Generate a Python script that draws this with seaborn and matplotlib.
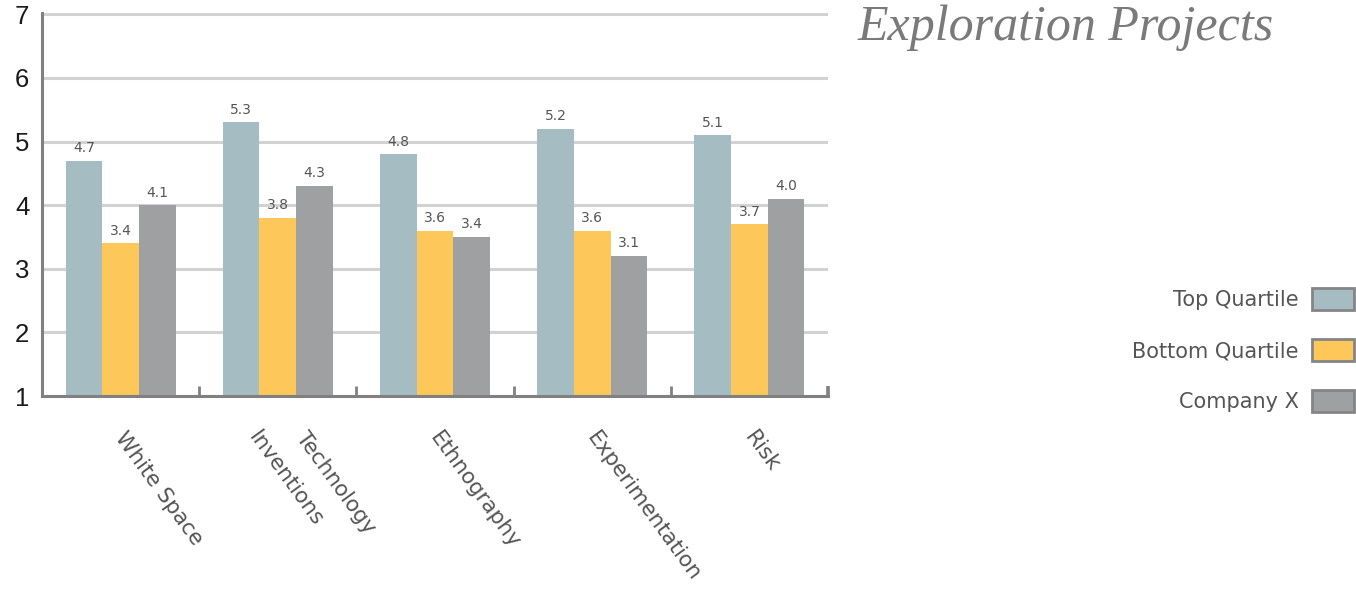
import matplotlib
matplotlib.use("Agg")
import matplotlib.pyplot as plt
from matplotlib.patches import Patch
from matplotlib.ticker import FixedLocator
import seaborn as sns
import pandas as pd

# ---- data ----
categories = ["White Space", "Inventions Technology", "Ethnography", "Experimentation", "Risk"]
tick_label_lines = [["White Space"], ["Inventions", "Technology"], ["Ethnography"],
                    ["Experimentation"], ["Risk"]]
series_names = ["Top Quartile", "Bottom Quartile", "Company X"]
top_quartile = [4.7, 5.3, 4.8, 5.2, 5.1]
bottom_quartile = [3.4, 3.8, 3.6, 3.6, 3.7]
company_x = [4.0, 4.3, 3.5, 3.2, 4.1]
top_quartile_labels = ["4.7", "5.3", "4.8", "5.2", "5.1"]
bottom_quartile_labels = ["3.4", "3.8", "3.6", "3.6", "3.7"]
company_x_labels = ["4.1", "4.3", "3.4", "3.1", "4.0"]
y_ticks = [1, 2, 3, 4, 5, 6, 7]
title = "Exploration Projects"

colors = ["#A6BCC3", "#FDC75A", "#9FA0A2"]

rows = []
for name, vals in zip(series_names, [top_quartile, bottom_quartile, company_x]):
    for c, v in zip(categories, vals):
        rows.append({"category": c, "series": name, "value": v})
df = pd.DataFrame(rows)

sns.set_style("white")
plt.rcParams["font.family"] = ["DejaVu Sans"]

fig = plt.figure(figsize=(13.56, 5.90), dpi=100)
ax = fig.add_axes([42 / 1356, 1 - 396 / 590, 786 / 1356, 383 / 590])

sns.barplot(data=df, x="category", y="value", hue="series", order=categories,
            hue_order=series_names, palette=colors, width=0.7, gap=0,
            saturation=1, ax=ax, legend=False, zorder=2)

for patch in ax.patches:
    patch.set_linewidth(0)

ax.set_ylim(1, 7.02)
ax.set_xlim(-0.5, 4.5)
ax.set_yticks(y_ticks)
ax.set_yticklabels([str(t) for t in y_ticks], fontsize=18.5, color="#1A1A1A",
                   family=["Liberation Sans"])
ax.yaxis.grid(True, color="#D2D2D2", linewidth=2.2, zorder=0)
ax.set_axisbelow(True)
ax.tick_params(axis="y", length=0, pad=9)

# value labels
label_sets = [top_quartile_labels, bottom_quartile_labels, company_x_labels]
for container, labels in zip(ax.containers, label_sets):
    ax.bar_label(container, labels=labels, padding=4, fontsize=10, color="#555555")

# x axis
ax.set_xticks(range(len(categories)))
ax.set_xticklabels([])
ax.tick_params(axis="x", which="major", length=0)
ax.xaxis.set_minor_locator(FixedLocator([0.5, 1.5, 2.5, 3.5, 4.5]))
ax.tick_params(axis="x", which="minor", direction="in", length=7, width=2,
               color="#808080", bottom=True)
minor_lines = ax.xaxis.get_minorticklines()
minor_lines[-2].set_color("#222222")
minor_lines[-2].set_markeredgewidth(2.6)

for i, lines in enumerate(tick_label_lines):
    n = len(lines)
    for j, line in enumerate(lines):
        dx_px = 7 + (j - (n - 1) / 2) * 47
        ax.annotate(line, xy=(i, 1), xycoords="data",
                    xytext=(dx_px * 0.72, -23), textcoords="offset points",
                    rotation=-54, rotation_mode="anchor", ha="left", va="top",
                    fontsize=15.5, color="#555555", annotation_clip=False)

ax.set_xlabel("")
ax.set_ylabel("")
for s in ["top", "right"]:
    ax.spines[s].set_visible(False)
for s in ["left", "bottom"]:
    ax.spines[s].set_color("#808080")
    ax.spines[s].set_linewidth(2.2)

# legend
handles = [Patch(facecolor=c, edgecolor="#858585", linewidth=2) for c in colors]
fig.legend(handles, series_names, loc="center right",
           bbox_to_anchor=(1354 / 1356, 1 - 350 / 590), frameon=False,
           markerfirst=False, fontsize=15, labelcolor="#555555",
           handlelength=2.0, handleheight=1.25, handletextpad=0.65,
           labelspacing=1.4, borderpad=0, borderaxespad=0)

# title
fig.text(858 / 1356, 1 - 40 / 590, title, fontsize=36, color="#7A7A7A",
         family=["Liberation Serif"], style="italic", ha="left", va="baseline")

fig.savefig("out.png", dpi=100)
